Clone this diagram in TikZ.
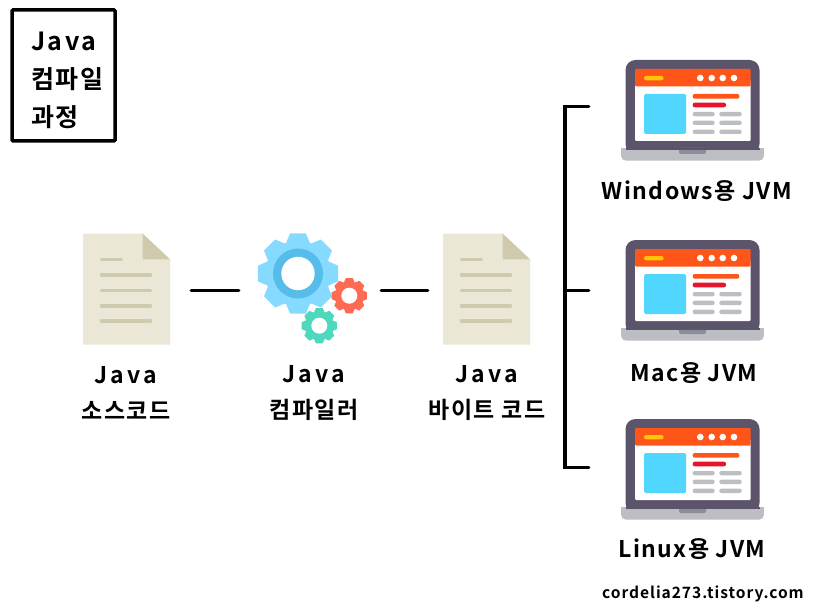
\documentclass[tikz,border=0pt]{standalone}
\usepackage{fontspec}
\setmainfont[LetterSpace=6]{Noto Sans CJK KR Bold}
\usetikzlibrary{shapes.geometric}

\definecolor{paper}{HTML}{EBE7D6}
\definecolor{paperdark}{HTML}{CFCAAD}
\definecolor{gearblue}{HTML}{86D9FF}
\definecolor{gearring}{HTML}{56BDEA}
\definecolor{gearred}{HTML}{FF6A52}
\definecolor{geargreen}{HTML}{4FD9BC}
\definecolor{lapframe}{HTML}{5C546A}
\definecolor{lapbase}{HTML}{BDBEC3}
\definecolor{lapnotch}{HTML}{8D8D9A}
\definecolor{laporange}{HTML}{FF5518}
\definecolor{lapred}{HTML}{E6152B}
\definecolor{lapcyan}{HTML}{50D6FF}
\definecolor{lapyellow}{HTML}{FFC50D}

\newcommand{\javaword}{{\addfontfeature{LetterSpace=14}Java}}

\newcommand{\gearshape}[2]{% outer radius, body radius
  \foreach \t in {0,45,...,315}{
    \fill (\t-21:#2) -- (\t-11:#1) -- (\t+11:#1) -- (\t+21:#2) -- cycle;
  }
  \fill (0,0) circle (#2);
}

\tikzset{
  x=1pt,y=-1pt,
  link/.style={line width=3.4pt,line cap=round},
  caption/.style={align=center,font=\fontsize{23}{36}\selectfont,text=black,inner sep=0pt},
  iconbox/.style={inner sep=0pt,minimum width=#1},
  pics/docicon/.style={code={
    \fill[paper] (-43.5,-55.5) -- (16,-55.5) -- (43.5,-29.7) -- (43.5,55.5) -- (-43.5,55.5) -- cycle;
    \fill[paperdark] (16,-55.5) -- (43.5,-29.7) -- (16,-29.7) -- cycle;
    \draw[paperdark,line width=3.5pt,line cap=round] (-25,-29.3) -- (-5,-29.3);
    \foreach \yy in {-14,1.3,17,32}
      \draw[paperdark,line width=3.5pt,line cap=round] (-25,\yy) -- (24,\yy);
  }},
  pics/laptopicon/.style={code={
    \fill[lapframe,rounded corners=10pt] (-67,44) -- (-67,-50) -- (67,-50) -- (67,44) -- cycle;
    \fill[lapbase,rounded corners=5pt] (-71.5,39.7) -- (71.5,39.7) -- (71.5,50.7) -- (-71.5,50.7) -- cycle;
    \fill[lapbase] (-71.5,39.7) rectangle (71.5,44);
    \fill[lapnotch,rounded corners=2pt] (-13.5,38) -- (13.5,38) -- (13.5,44) -- (-13.5,44) -- cycle;
    \fill[lapbase] (-71.5,38) rectangle (71.5,39.7);
    \fill[lapframe] (-67,38) rectangle (67,39.7);
    \fill[white,rounded corners=1pt] (-57.5,-30) rectangle (58,31);
    \fill[laporange,rounded corners=1pt] (-57.5,-41) rectangle (58,-23.5);
    \fill[lapyellow,rounded corners=2pt] (-48.5,-34) rectangle (-29,-29.7);
    \foreach \xx in {7.8,19.2,30.2,41.5}
      \fill[white] (\xx,-32) circle (3.3pt);
    \fill[lapcyan,rounded corners=1.5pt] (-48.5,-16) rectangle (-6.5,24);
    \fill[laporange,rounded corners=2pt] (0.2,-16) rectangle (46.8,-11.3);
    \fill[lapred,rounded corners=2pt] (0.2,-7.3) rectangle (33.5,-2.7);
    \foreach \yy in {2,10.7,19.7}{
      \fill[lapbase,rounded corners=2pt] (0.2,\yy) rectangle (22.2,\yy+4.3);
      \fill[lapbase,rounded corners=2pt] (26.8,\yy) rectangle (49.2,\yy+4.3);
    }
  }}
}

\begin{document}
\begin{tikzpicture}
  \useasboundingbox[fill=white] (0,0) rectangle (820,615);

  \node[draw=black,line width=3.5pt,rounded corners=1pt,minimum width=103pt,minimum height=131pt,inner sep=0pt] (title) at (63.5,75.5) {};
  \node[caption,anchor=west,align=left,font=\fontsize{25}{38}\selectfont] (titletext) at (31,80) {{\addfontfeature{LetterSpace=10}Java}\\컴파일\\과정};

  % documents and compiler
  \node[iconbox=87pt,minimum height=112pt] (srcdoc) at (126.5,289) {};
  \pic at (srcdoc.center) {docicon};
  \node[iconbox=111pt,minimum height=112pt] (compiler) at (312.5,289) {};
  \begin{scope}[shift={(298,273.5)},fill=gearblue]
    \gearshape{41}{33}
    \fill[gearring] (0,0) circle (25);
    \fill[white] (0,0) circle (16.7);
  \end{scope}
  \begin{scope}[shift={(349.3,295.7)},fill=gearred]
    \gearshape{18}{14.5}
    \fill[white] (0,0) circle (8);
  \end{scope}
  \begin{scope}[shift={(319.3,325.7)},fill=geargreen]
    \gearshape{18}{14.5}
    \fill[white] (0,0) circle (8);
  \end{scope}
  \node[iconbox=87pt,minimum height=112pt] (bytedoc) at (486.5,289) {};
  \pic at (bytedoc.center) {docicon};

  % three laptops
  \node[iconbox=143pt,minimum height=101pt] (winpc) at (692.5,110) {};
  \pic at (winpc.center) {laptopicon};
  \node[iconbox=143pt,minimum height=101pt] (macpc) at (692.5,290) {};
  \pic at (macpc.center) {laptopicon};
  \node[iconbox=143pt,minimum height=101pt] (linuxpc) at (692.5,469) {};
  \pic at (linuxpc.center) {laptopicon};

  % labels
  \node[caption] (srctext) at (126,393) {\javaword\\소스코드};
  \node[caption] (comptext) at (314,393) {\javaword\\컴파일러};
  \node[caption] (bytetext) at (487,393) {\javaword\\바이트 코드};
  \node[caption] (wintext) at (697,191) {Windows용 JVM};
  \node[caption] (mactext) at (694,373) {Mac용 JVM};
  \node[caption] (linuxtext) at (692,549) {Linux용 JVM};
  \node[caption,font=\fontsize{15.6}{16}\selectfont] (site) at (703,594) {cordelia273.tistory.com};

  % connectors
  \coordinate (topjoin) at (565,106.5);
  \coordinate (midjoin) at (565,290.5);
  \coordinate (botjoin) at (565,467.5);
  \draw[link,shorten <=21pt,shorten >=18pt] (srcdoc.east |- midjoin) -- (compiler.west |- midjoin);
  \draw[link,shorten <=13pt,shorten >=15pt] (compiler.east |- midjoin) -- (bytedoc.west |- midjoin);
  \draw[link,shorten <=32pt,shorten >=32pt] (winpc.west |- topjoin) -- (topjoin) -- (botjoin) -- (linuxpc.west |- botjoin);
  \draw[link,shorten >=32pt] (midjoin) -- (macpc.west |- midjoin);
\end{tikzpicture}
\end{document}
